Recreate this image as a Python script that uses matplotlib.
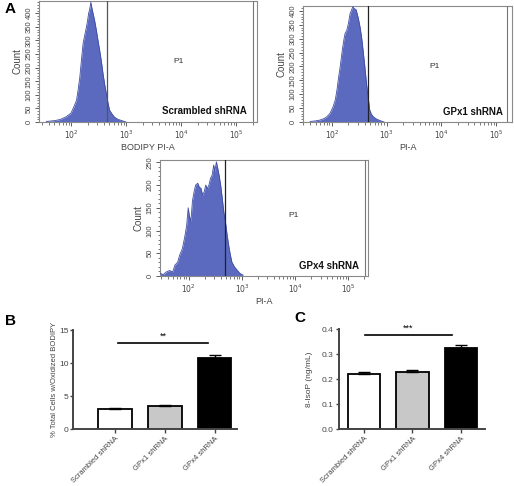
import matplotlib
matplotlib.use("Agg")
import matplotlib.pyplot as plt
from matplotlib.ticker import LogLocator, MultipleLocator, NullFormatter, FixedLocator
import numpy as np

plt.rcParams['font.family'] = ['Liberation Sans', 'DejaVu Sans']

# ---------------- data ----------------
# Histogram A1: Scrambled shRNA (log10 fluorescence, counts)
scr_logx = [1.55, 1.70, 1.80, 1.90, 1.97, 2.00, 2.05, 2.10, 2.13, 2.16, 2.19, 2.22, 2.25, 2.28,
            2.30, 2.32, 2.34, 2.36, 2.38, 2.40, 2.43, 2.46, 2.49, 2.52, 2.55, 2.58, 2.61, 2.64,
            2.67, 2.70, 2.75, 2.79, 2.85, 2.91, 3.00]
scr_count = [2, 5, 9, 18, 28, 33, 55, 80, 120, 165, 230, 290, 320, 350,
             372, 400, 415, 440, 418, 400, 372, 338, 300, 264, 225, 180, 140, 106,
             72, 44, 28, 18, 10, 6, 0]

# Histogram A2: GPx1 shRNA
gp1_logx = [1.60, 1.70, 1.78, 1.85, 1.90, 1.96, 2.02, 2.06, 2.09, 2.12, 2.15, 2.19, 2.22, 2.24,
            2.27, 2.30, 2.33, 2.36, 2.38, 2.41, 2.44, 2.48, 2.51, 2.54, 2.57, 2.60, 2.63,
            2.66, 2.69, 2.72, 2.76, 2.82, 2.88, 2.95]
gp1_count = [2, 4, 7, 12, 18, 30, 55, 80, 115, 160, 200, 262, 300, 320,
             330, 355, 390, 405, 415, 408, 405, 375, 345, 307, 255, 200, 140,
             90, 43, 28, 18, 10, 5, 0]

# Histogram A3: GPx4 shRNA
gp4_logx = [1.46, 1.52, 1.58, 1.64, 1.70, 1.74, 1.79, 1.83, 1.88, 1.92, 1.96, 1.99, 2.01, 2.04,
            2.07, 2.10, 2.13, 2.17, 2.20, 2.23, 2.26, 2.29, 2.32, 2.35, 2.38, 2.41, 2.44,
            2.47, 2.49, 2.52, 2.54, 2.57, 2.60, 2.63, 2.66, 2.69, 2.72, 2.75, 2.78, 2.81,
            2.86, 2.91, 2.96, 3.02]
gp4_count = [6, 3, 9, 12, 9, 24, 30, 46, 60, 83, 110, 150, 134, 119,
             165, 185, 200, 204, 195, 193, 178, 185, 200, 192, 200, 215, 222,
             244, 230, 251, 240, 222, 200, 171, 140, 119, 92, 68, 48, 31,
             20, 13, 6, 2]

# Bar chart B
bar_labels = ['Scrambled shRNA', 'GPx1 shRNA', 'GPx4 shRNA']
b_values = [3.1, 3.5, 10.7]
b_errors = [0.05, 0.15, 0.5]
# Bar chart C
c_values = [0.220, 0.230, 0.325]
c_errors = [0.010, 0.007, 0.013]

bar_colors = ['white', '#c8c8c8', 'black']

W, H = 514, 486
fig = plt.figure(figsize=(W / 100, H / 100), dpi=100)


def ax_px(x0, y0, x1, y1):
    return fig.add_axes([x0 / W, 1 - y1 / H, (x1 - x0) / W, (y1 - y0) / H])


FILL = '#5b6abf'
EDGE = '#3e4ca3'
FRAME = '#8a8a8a'


def histo(rect, logx, counts, xlim, ylim, gate, gate_right, xlabel, label, p1pos):
    ax = ax_px(*rect)
    x = 10 ** np.array(logx)
    ax.fill_between(x, counts, 0, color=FILL, lw=0, zorder=2)
    ax.plot(x, counts, color=EDGE, lw=0.6, zorder=3)
    ax.set_xscale('log')
    ax.set_xlim(10 ** xlim[0], 10 ** xlim[1])
    ax.set_ylim(*ylim)
    ax.axvline(10 ** gate, color='#555555' if label.startswith('Scr') else '#222222', lw=0.9, zorder=4)
    ax.axvline(10 ** gate_right, color='#777777', lw=0.8, zorder=4)
    for s in ax.spines.values():
        s.set_color(FRAME)
        s.set_linewidth(0.8)
    ax.xaxis.set_major_locator(FixedLocator([1e2, 1e3, 1e4, 1e5]))
    ax.xaxis.set_minor_locator(LogLocator(base=10, subs=np.arange(2, 10), numticks=20))
    ax.xaxis.set_minor_formatter(NullFormatter())
    ax.set_xticklabels([r'$10^2$', r'$10^3$', r'$10^4$', r'$10^5$'])
    ax.yaxis.set_major_locator(MultipleLocator(50))
    ax.yaxis.set_minor_locator(MultipleLocator(10))
    ax.tick_params(axis='both', which='major', labelsize=5.5, length=3, width=0.6,
                   color='#444444', labelcolor='#444444', pad=1.5)
    ax.tick_params(axis='both', which='minor', length=1.8, width=0.5, color='#444444')
    for t in ax.get_yticklabels():
        t.set_rotation(90)
        t.set_va('center')
    ax.set_xlabel(xlabel, fontsize=6.5, color='#444444', labelpad=2)
    ax.set_ylabel('Count', fontsize=7, color='#444444', labelpad=2)
    ax.text(0.955, 0.09, label, transform=ax.transAxes, ha='right', va='center',
            fontsize=7, fontweight='bold', color='#111111')
    ax.text(p1pos[0], p1pos[1], 'P1', transform=ax.transAxes, ha='center', va='center',
            fontsize=6, color='#333333')
    return ax


histo((39, 1, 257, 122), scr_logx, scr_count, (1.418, 5.38), (0, 445),
      2.65, 5.31, 'BODIPY PI-A', 'Scrambled shRNA', (0.64, 0.50))
histo((303, 6, 512, 122), gp1_logx, gp1_count, (1.47, 5.29), (0, 418),
      2.66, 5.20, 'PI-A', 'GPx1 shRNA', (0.63, 0.48))
histo((160, 160, 368, 276), gp4_logx, gp4_count, (1.46, 5.37), (0, 255),
      2.68, 5.31, 'PI-A', 'GPx4 shRNA', (0.64, 0.52))


def bars(rect, values, errors, xlim, ylim, yticks, yfmt, ylabel, ylfs, lpad, ypad,
         sig, sig_x, sig_y, sig_dy):
    ax = ax_px(*rect)
    pos = np.arange(len(values))
    ax.bar(pos, values, width=0.67, color=bar_colors, edgecolor='black', linewidth=1.3, zorder=2)
    ax.errorbar(pos, values, yerr=[[0] * len(values), errors], fmt='none', ecolor='black',
                elinewidth=1.0, capsize=4, capthick=1.0, zorder=3)
    ax.set_xlim(*xlim)
    ax.set_ylim(*ylim)
    ax.set_yticks(yticks)
    ax.set_yticklabels([yfmt.format(v) for v in yticks])
    ax.set_xticks(pos)
    ax.set_xticklabels(bar_labels, rotation=45, ha='right', rotation_mode='anchor')
    for s in ['top', 'right']:
        ax.spines[s].set_visible(False)
    for s in ['left', 'bottom']:
        ax.spines[s].set_linewidth(1.4)
        ax.spines[s].set_color('#444444')
    ax.tick_params(axis='y', labelsize=6, length=2.5, width=1.0, color='#444444',
                   labelcolor='#444444', pad=ypad)
    ax.tick_params(axis='x', labelsize=5.5, length=3, width=1.0, color='#444444',
                   labelcolor='#444444', pad=1.5)
    ax.set_ylabel(ylabel, fontsize=ylfs, color='#444444', labelpad=lpad)
    ax.plot(sig_x, [sig_y, sig_y], color='black', lw=1.2, clip_on=False)
    ax.text(np.mean(sig_x), sig_y + sig_dy, sig, ha='center', va='bottom', fontsize=6.5)
    return ax


bars((73, 330, 237, 429), b_values, b_errors, (-0.845, 2.45), (0, 15), [0, 5, 10, 15], '{:g}',
     '% Total Cells w/Oxidized BODIPY', 5.5, 1, 0.5, '**', [0.06, 1.87], 13.0, 0.3)
bars((339, 329, 485, 429), c_values, c_errors, (-0.515, 2.5), (0, 0.4),
     [0.0, 0.1, 0.2, 0.3, 0.4], '{:.1f}', '8-IsoP (ng/mL)', 6, 6, 1.5, '***', [0.02, 1.81], 0.376, 0.008)

fig.text(5 / W, 1 - 9 / H, 'A', fontsize=11, fontweight='bold', va='center', ha='left')
fig.text(5 / W, 1 - 321 / H, 'B', fontsize=11, fontweight='bold', va='center', ha='left')
fig.text(294 / W, 1 - 318 / H, 'C', fontsize=11, fontweight='bold', va='center', ha='left')

fig.savefig('out.png', dpi=100)
